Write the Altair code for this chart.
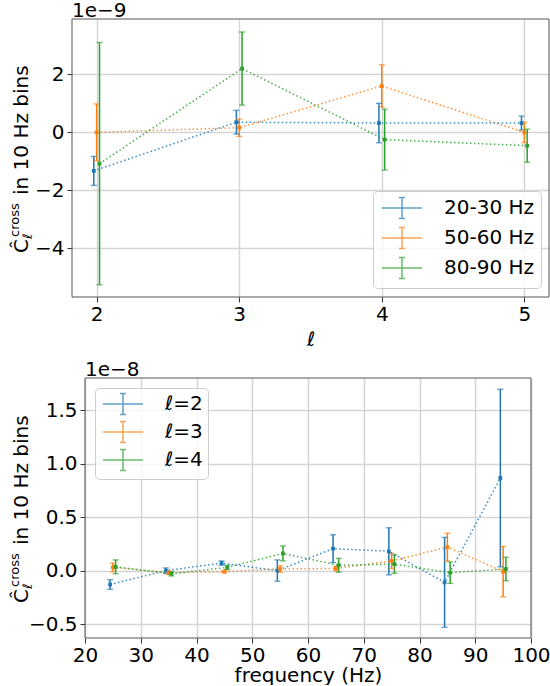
import altair as alt
import pandas as pd

# ---------------- top panel: C_ell vs ell (units of 1e-9) ----------------
ells = [2, 3, 4, 5]
bands = ["20-30 Hz", "50-60 Hz", "80-90 Hz"]
band_shift = [-0.02, 0.0, 0.02]
top_vals = [
    [-1.34, 0.34, 0.31, 0.31],
    [-0.01, 0.15, 1.59, -0.01],
    [-1.09, 2.19, -0.26, -0.47],
]
top_errs = [
    [0.50, 0.41, 0.68, 0.24],
    [0.98, 0.30, 0.73, 0.35],
    [4.18, 1.26, 1.05, 0.57],
]

# ---------------- bottom panel: C_ell vs frequency (units of 1e-8) ----------------
freqs = [25, 35, 45, 55, 65, 75, 85, 95]
ell_names = ["ℓ=2", "ℓ=3", "ℓ=4"]
freq_shift = [-0.5, 0.0, 0.5]
bot_vals = [
    [-0.13, 0.00, 0.07, 0.00, 0.205, 0.18, -0.11, 0.865],
    [0.03, -0.02, -0.01, 0.015, 0.02, 0.09, 0.22, -0.01],
    [0.035, -0.03, 0.03, 0.16, 0.05, 0.06, -0.02, 0.015],
]
bot_errs = [
    [0.045, 0.025, 0.02, 0.10, 0.13, 0.22, 0.42, 0.83],
    [0.04, 0.015, 0.01, 0.03, 0.02, 0.07, 0.13, 0.235],
    [0.065, 0.02, 0.02, 0.07, 0.065, 0.085, 0.10, 0.11],
]

COLORS = ["#1f77b4", "#ff7f0e", "#2ca02c"]
FONT = "DejaVu Sans"
FRAME = "#555555"
SYM = "M-2,0L2,0M0,-1.05L0,1.05M-0.3,-1.05L0.3,-1.05M-0.3,1.05L0.3,1.05"


def make_df(xs, shifts, names, vals, errs):
    rows = []
    for name, sh, vs, es in zip(names, shifts, vals, errs):
        for x, v, e in zip(xs, vs, es):
            rows.append({"x": x + sh, "y": v, "lo": v - e, "hi": v + e, "s": name})
    return pd.DataFrame(rows)


def one_row():
    return pd.DataFrame({"a": [0]})


def text_layer(text, x, y, size=20, style="normal", angle=0, baseline="alphabetic"):
    return alt.Chart(one_row()).mark_text(
        text=text, font=FONT, fontSize=size, fontStyle=style, angle=angle,
        align="left", baseline=baseline, color="black"
    ).encode(x=alt.value(x), y=alt.value(y))


def extent_layer(x, y1, y2):
    # invisible guide that fixes the panel's outer extent (layout only)
    return alt.Chart(one_row()).mark_rule(opacity=0, strokeWidth=0).encode(
        x=alt.value(x), x2=alt.value(x), y=alt.value(y1), y2=alt.value(y2))


def frame_layer(x1, x2, h):
    return alt.Chart(one_row()).mark_rect(
        fillOpacity=0, stroke=FRAME, strokeWidth=1
    ).encode(x=alt.value(x1), x2=alt.value(x2), y=alt.value(0), y2=alt.value(h))


def panel(df, field, names, xdom, xticks, xfmt, ydom, yticks, yfmt, xtitle, xtitle_style,
          title_pad, w, h, shift, offset_text, title_x, lx, ly, row_pad, lpad, ext):
    legend = alt.Legend(
        title=None, orient="none", legendX=lx, legendY=ly,
        symbolType=SYM, symbolSize=400, symbolStrokeWidth=1.5,
        labelFont=FONT, labelFontSize=20, labelColor="black",
        fillColor="rgba(255,255,255,0.8)", strokeColor="#cccccc",
        cornerRadius=4, padding=lpad, rowPadding=row_pad, symbolOffset=12, labelOffset=31,
    )
    color = alt.Color(f"{field}:N", scale=alt.Scale(domain=names, range=COLORS), legend=legend)
    xscale = alt.Scale(domain=xdom, nice=False, zero=False, padding=0, range=[-shift, w])
    yscale = alt.Scale(domain=ydom, nice=False, zero=False, padding=0)
    xaxis = alt.Axis(values=xticks, format=xfmt, title=xtitle, titleFontStyle=xtitle_style,
                     titlePadding=title_pad, labelFlush=False, labelOverlap=False)
    yaxis = alt.Axis(values=yticks, format=yfmt, title=None, labelOverlap=False,
                     labelFlush=False, offset=shift)
    X = alt.X("x:Q", scale=xscale, axis=xaxis)

    base = alt.Chart(df)
    bars = base.mark_rule(strokeWidth=1.5).encode(
        x=X, y=alt.Y("lo:Q", scale=yscale, axis=yaxis), y2="hi:Q", color=color)
    cap_lo = base.mark_tick(orient="horizontal", size=6, thickness=1.3).encode(
        x=X, y=alt.Y("lo:Q", scale=yscale, axis=yaxis), color=color)
    cap_hi = base.mark_tick(orient="horizontal", size=6, thickness=1.3).encode(
        x=X, y=alt.Y("hi:Q", scale=yscale, axis=yaxis), color=color)
    line = base.mark_line(strokeDash=[1.5, 2.5], strokeWidth=1.5, opacity=0.85).encode(
        x=X, y=alt.Y("y:Q", scale=yscale, axis=yaxis), color=color)
    pts = base.mark_point(filled=True, size=14, opacity=1, shape="square").encode(
        x=X, y=alt.Y("y:Q", scale=yscale, axis=yaxis), color=color)

    c = h / 2
    tx = title_x - shift
    texts = [
        text_layer(offset_text, -shift, -18, baseline="top"),
        text_layer("in 10 Hz bins", tx, c + 37, angle=270),
        text_layer("Ĉ", tx, c + 95, angle=270),
        text_layer("cross", tx - 9, c + 79, size=13, angle=270),
        text_layer("ℓ", tx + 4, c + 81, size=13, style="italic", angle=270),
    ]
    return alt.layer(bars, cap_lo, cap_hi, line, pts, frame_layer(-shift, w, h), *texts,
                     extent_layer(*ext)).properties(width=w, height=h)


top_df = make_df(ells, band_shift, bands, top_vals, top_errs).rename(columns={"s": "band"})
bot_df = make_df(freqs, freq_shift, ell_names, bot_vals, bot_errs).rename(columns={"s": "ell"})

# both panels share the same left origin (84.3 px); the top panel reaches 13 px further left
top = panel(top_df, "band", bands, [1.827, 5.173], ells, "d", [-5.69, 3.9], [-4, -2, 0, 2], "d",
            "ℓ", "italic", 5, 464, 278, 13, "1e−9", -44, 288, 172, 2, 6,
            (-84.3, -19, 278 + 54))
bottom = panel(bot_df, "ell", ell_names, [20, 100], [20, 30, 40, 50, 60, 70, 80, 90, 100], "d",
               [-0.63, 1.80], [-0.5, 0.0, 0.5, 1.0, 1.5], ".1f",
               "frequency (Hz)", "normal", 0, 446, 260, 0, "1e−8", -57, 10, 10, 0, 5,
               (-84.3, -27, 260))

chart = alt.concat(top, bottom, columns=1, spacing=0).resolve_scale(
    color="independent", x="independent", y="independent"
).resolve_legend(color="independent").properties(
    padding={"left": 0, "top": 0, "right": -12, "bottom": 0}
).configure_view(strokeWidth=0, stroke="transparent").configure_axis(
    labelFont=FONT, labelFontSize=20, labelColor="black",
    titleFont=FONT, titleFontSize=20, titleFontWeight="normal", titleColor="black",
    tickColor="#333333", tickSize=5, tickWidth=1, domain=False,
    gridColor="#d5d5d5", gridWidth=1.5,
).configure_axisX(labelPadding=2).configure_axisY(labelPadding=3)

chart.save("out.html", embed_options={"renderer": "svg", "actions": False})
